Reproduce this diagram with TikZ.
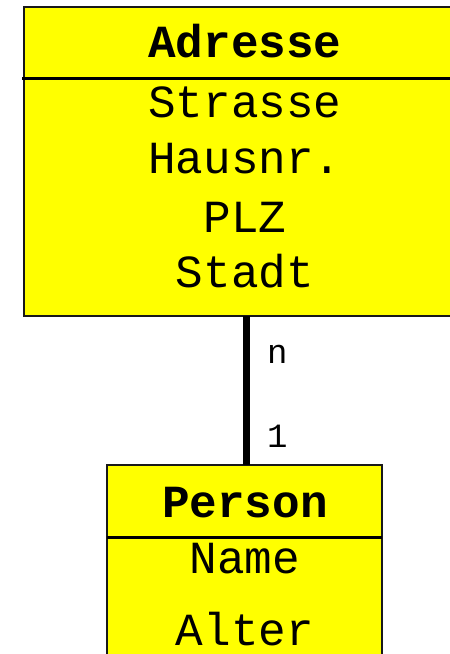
\documentclass[tikz,border=0pt]{standalone}
\usepackage{fontspec}
\setmonofont{Liberation Mono}
\definecolor{boxyellow}{RGB}{255,255,0}
\begin{document}
\begin{tikzpicture}[x=1pt,y=-1pt,
  entitybox/.style={fill=boxyellow,draw=black!90,line width=2.5pt},
  divider/.style={draw=black,line width=3pt},
  title/.style={anchor=base,inner sep=0pt,font=\ttfamily\bfseries\fontsize{46}{46}\selectfont},
  attr/.style={anchor=base,inner sep=0pt,font=\ttfamily\fontsize{46}{46}\selectfont},
  card/.style={anchor=base west,inner sep=0pt,font=\ttfamily\fontsize{34}{34}\selectfont},
  relation/.style={draw=black,line width=7pt}]
\useasboundingbox (0,0) rectangle (450,654);
% Adresse entity
\path[entitybox] (24,7) rectangle (460,316);
\draw[divider] (22,78) -- (460,78);
\node[title] (adr) at (245,57) {Adresse};
\node[attr] (strasse) at (245,117) {Strasse};
\node[attr] (hausnr) at (245,173) {Hausnr.};
\node[attr] (plz) at (245,232) {PLZ};
\node[attr] (stadt) at (245,287) {Stadt};
% Person entity
\path[entitybox] (107,465) rectangle (382,670);
\draw[divider] (107,537) -- (382,537);
\node[title] (person) at (245,517) {Person};
\node[attr] (name) at (245,573) {Name};
\node[attr] (alter) at (245,645) {Alter};
% relationship with cardinalities
\coordinate (top) at (246,316);
\coordinate (bottom) at (246,465);
\draw[relation] (top) -- (bottom);
\node[card] (n) at (267,363) {n};
\node[card] (one) at (267,447) {1};
\end{tikzpicture}
\end{document}
